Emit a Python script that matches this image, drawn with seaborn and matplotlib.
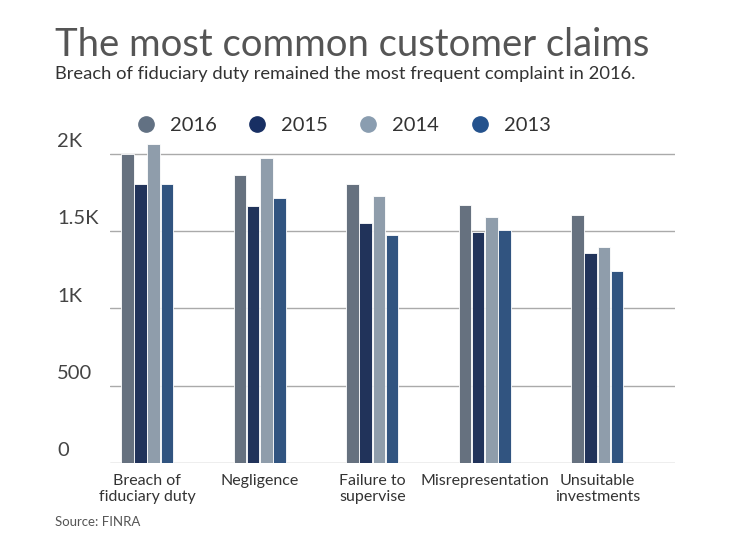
import pandas as pd
import seaborn as sns
import matplotlib.pyplot as plt
from matplotlib.lines import Line2D
from matplotlib.transforms import blended_transform_factory

categories = ["Breach of\nfiduciary duty", "Negligence", "Failure to\nsupervise",
              "Misrepresentation", "Unsuitable\ninvestments"]
years = ["2016", "2015", "2014", "2013"]
v2016 = [2000, 1864, 1806, 1670, 1605]
v2015 = [1806, 1663, 1553, 1495, 1359]
v2014 = [2065, 1974, 1728, 1592, 1398]
v2013 = [1806, 1715, 1476, 1508, 1243]
yticks = [0, 500, 1000, 1500, 2000]
ytick_labels = ["0", "500", "1K", "1.5K", "2K"]
colors = ["#627183", "#182f63", "#8a9db0", "#24528d"]

rows = []
for y, vals in zip(years, [v2016, v2015, v2014, v2013]):
    for c, v in zip(categories, vals):
        rows.append({"claim": c, "year": y, "count": v})
df = pd.DataFrame(rows)

sns.set_style("white")
plt.rcParams["font.family"] = "Lato"
fig = plt.figure(figsize=(7.4, 5.44), dpi=100)
ax = fig.add_axes([110 / 740, 1 - 463 / 544, 565 / 740, (463 - 138.5) / 544])

sns.barplot(data=df, x="claim", y="count", hue="year", palette=colors,
            width=0.47, gap=0.05, ax=ax, legend=False, edgecolor="white", linewidth=0.6)

ax.set_xlim(-0.33, 4.69)
ax.set_ylim(0, 2100)
ax.set_yticks(yticks)
ax.set_yticklabels([])
ax.tick_params(axis="y", length=0)
ax.tick_params(axis="x", length=0, labelsize=11.5, labelcolor="#333333", pad=8)
ax.grid(axis="y", color="#aaaaaa", linewidth=1)
ax.set_axisbelow(True)
for s in ax.spines.values():
    s.set_visible(False)
ax.set_xlabel("")
ax.set_ylabel("")

trans = blended_transform_factory(fig.transFigure, ax.transData)
for t, lab in zip(yticks, ytick_labels):
    ax.text(57 / 740, t + 25, lab, transform=trans, fontsize=14.5, color="#444444",
            ha="left", va="bottom")

handles = [Line2D([], [], marker="o", linestyle="", markersize=11, color=c) for c in colors]
fig.legend(handles, years, loc="center", bbox_to_anchor=(338 / 740, 1 - 125 / 544), ncol=4,
           frameon=False, fontsize=14.5, handletextpad=0.2, columnspacing=1.0,
           labelcolor="#333333")

fig.text(55 / 740, 1 - 45 / 544, "The most common customer claims", fontsize=27.5,
         color="#555555", va="center")
fig.text(55 / 740, 1 - 74 / 544,
         "Breach of fiduciary duty remained the most frequent complaint in 2016.",
         fontsize=13.2, color="#333333", va="center")
fig.text(55 / 740, 1 - 522 / 544, "Source: FINRA", fontsize=9.5, color="#555555", va="center")

fig.savefig("out.png")
